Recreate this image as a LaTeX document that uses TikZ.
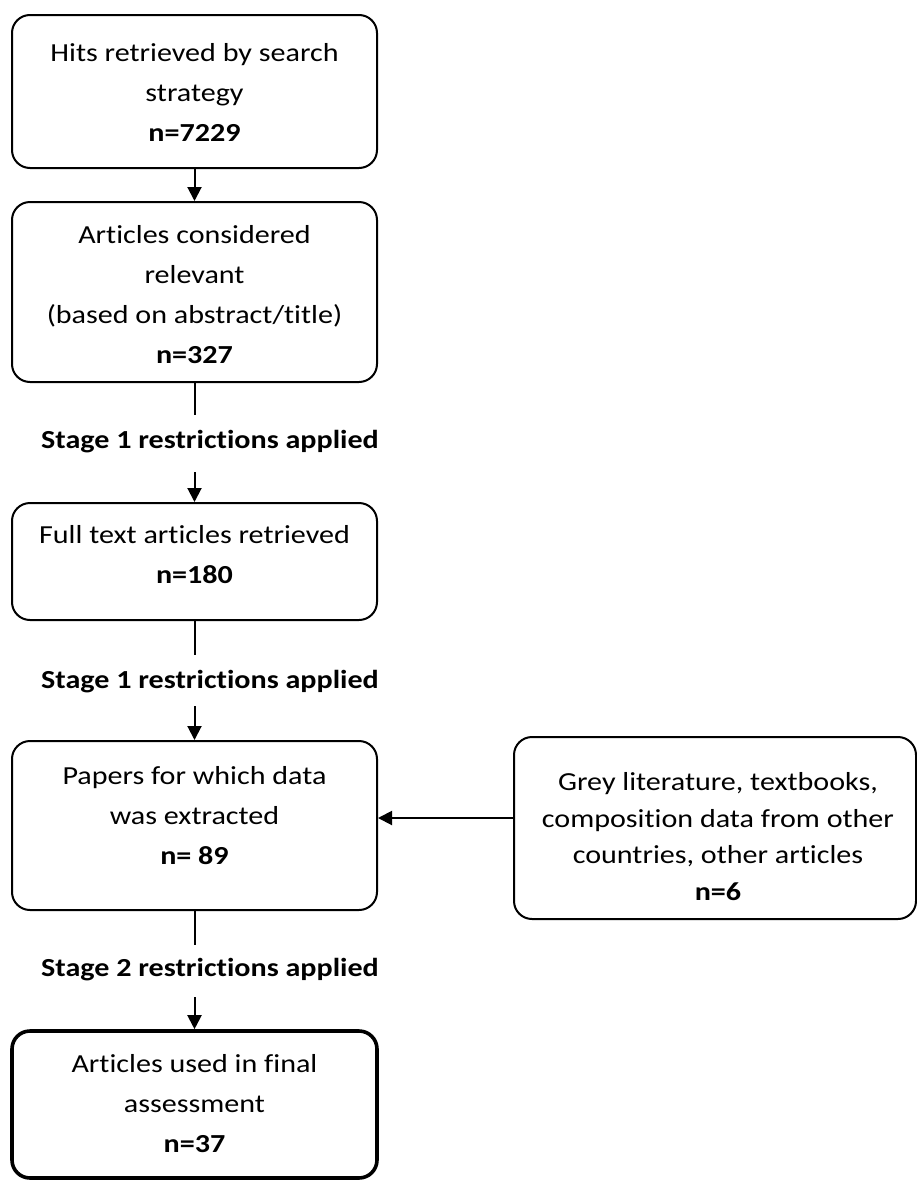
\documentclass[tikz,border=0pt]{standalone}
\usepackage{fontspec}
\setmainfont{Carlito}[FakeStretch=1.157,Ligatures={NoCommon,NoContextual}]
\usetikzlibrary{arrows.meta}
\tikzset{
  every node/.style={font=\fontsize{26}{40}\selectfont},
  box/.style={draw, line width=2pt, rounded corners=18pt, inner sep=0pt},
  finalbox/.style={box, line width=3.6pt},
  txt/.style={align=center, inner sep=0pt},
  stagelabel/.style={font=\fontsize{26}{40}\selectfont\bfseries, inner sep=0pt},
  arr/.style={line width=2pt, -{Triangle[length=14pt,width=14pt]}},
  ln/.style={line width=2pt},
}
\begin{document}
\begin{tikzpicture}[x=1pt,y=-1pt]
\useasboundingbox (0,0) rectangle (917,1181);
% boxes
\node[box, minimum width=365pt, minimum height=153pt] (b1) at (194.5,91.5) {};
\node[box, minimum width=365pt, minimum height=180pt] (b2) at (194.5,292) {};
\node[box, minimum width=365pt, minimum height=117pt] (b3) at (194.5,561.5) {};
\node[box, minimum width=365pt, minimum height=169pt] (b4) at (194.5,825.5) {};
\node[finalbox, minimum width=365pt, minimum height=147pt] (b5) at (194.5,1104.5) {};
\node[box, minimum width=402pt, minimum height=182pt] (g) at (715,828) {};
% texts
\node[txt] (t1) at (194.5,92.5) {Hits retrieved by search\\strategy\\\textbf{n=7229}};
\node[txt] (t2) at (194.5,294.5) {Articles considered\\relevant\\(based on abstract/title)\\\textbf{n=327}};
\node[txt] (t3) at (194.5,554.5) {Full text articles retrieved\\\textbf{n=180}};
\node[txt] (t4) at (194.5,815.5) {Papers for which data\\was extracted\\\textbf{n= 89}};
\node[txt] (t5) at (194.5,1103.5) {Articles used in final\\assessment\\\textbf{n=37}};
\node[txt, font=\fontsize{26}{36.5}\selectfont] (tg) at (718,836.5) {Grey literature, textbooks,\\composition data from other\\countries, other articles\\\textbf{n=6}};
% stage labels
\node[stagelabel] (s1) at (210,442) {Stage 1 restrictions applied};
\node[stagelabel] (s2) at (210,682) {Stage 1 restrictions applied};
\node[stagelabel] (s3) at (210,970) {Stage 2 restrictions applied};
% connectors
\coordinate (c1) at (194.5,415);
\coordinate (c2) at (194.5,472);
\coordinate (c3) at (194.5,655);
\coordinate (c4) at (194.5,706);
\coordinate (c5) at (194.5,945);
\coordinate (c6) at (194.5,997);
\coordinate (gy) at (0,818);
\draw[arr] (b1.south) -- (b2.north);
\draw[ln] (b2.south) -- (c1);
\draw[arr] (c2) -- (b3.north);
\draw[ln] (b3.south) -- (c3);
\draw[arr] (c4) -- (b4.north);
\draw[ln] (b4.south) -- (c5);
\draw[arr] (c6) -- (b5.north);
\draw[arr] (g.west |- gy) -- (b4.east |- gy);
\end{tikzpicture}
\end{document}
